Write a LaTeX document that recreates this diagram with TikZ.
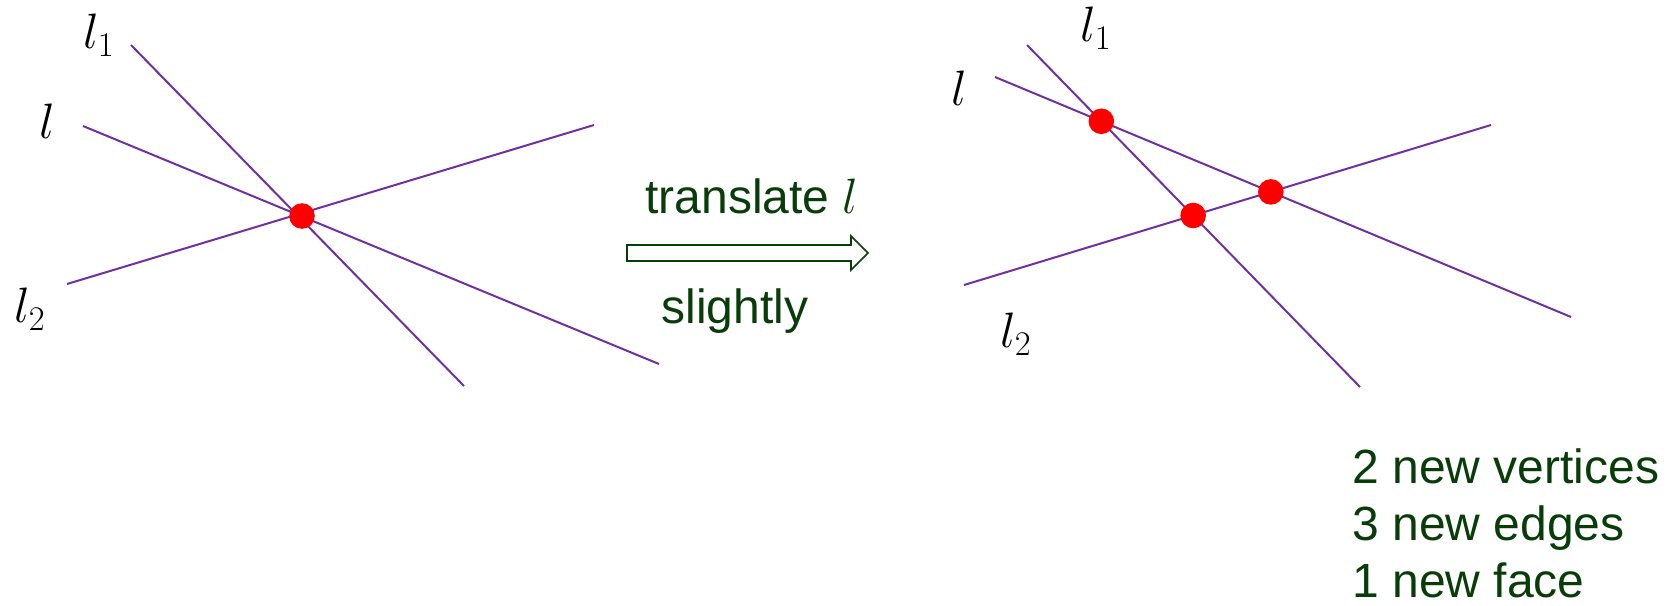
\documentclass[tikz,border=0pt]{standalone}
\usepackage{fontspec}
\setmainfont{Liberation Sans}
\usetikzlibrary{calc}
\definecolor{lin}{RGB}{112,48,160}
\definecolor{dgreen}{RGB}{8,60,8}
\begin{document}
\begin{tikzpicture}[x=0.5pt,y=-0.5pt,
  ln/.style={draw=lin,line width=1pt},
  vtx/.style={circle,fill=red,inner sep=0pt,minimum size=12.8pt},
  lab/.style={inner sep=0pt,font=\fontsize{26}{30}\selectfont},
  txt/.style={inner sep=0pt,anchor=base,text=dgreen,font=\fontsize{24}{28}\selectfont},
  hollowarrow/.style={draw=dgreen,fill=white,line width=0.8pt,line join=miter}]
\useasboundingbox (0,0) rectangle (1674,605);
% left figure
\coordinate (a1) at (131,45);  \coordinate (a2) at (464,386);
\coordinate (b1) at (83,126);  \coordinate (b2) at (659,364);
\coordinate (c1) at (67,284);  \coordinate (c2) at (594,125);
\draw[ln] (a1) -- (a2);
\draw[ln] (b1) -- (b2);
\draw[ln] (c1) -- (c2);
\node[vtx] (v0) at (302,216) {};
\node[lab] (la1) at (99,35) {$l_1$};
\node[lab] (lb) at (47,121) {$l$};
\node[lab] (lc) at (30,309) {$l_2$};
% arrow
\coordinate (ar1) at (627,245);
\draw[hollowarrow] (ar1) -- (851,245) -- (851,236) -- (868,253) -- (851,270) -- (851,261) -- (627,261) -- cycle;
\node[txt] (t1) at (752,213) {translate $l$};
\node[txt] (t2) at (735,323) {slightly};
% right figure
\coordinate (d1) at (1027,45);  \coordinate (d2) at (1360,387);
\coordinate (e1) at (995,77);   \coordinate (e2) at (1571,317);
\coordinate (f1) at (964,285);  \coordinate (f2) at (1491,125);
\draw[ln] (d1) -- (d2);
\draw[ln] (e1) -- (e2);
\draw[ln] (f1) -- (f2);
\node[vtx] (v1) at (intersection of d1--d2 and e1--e2) {};
\node[vtx] (v2) at (intersection of e1--e2 and f1--f2) {};
\node[vtx] (v3) at (intersection of d1--d2 and f1--f2) {};
\node[lab] (ld) at (1096,28) {$l_1$};
\node[lab] (le) at (959,88) {$l$};
\node[lab] (lf) at (1016,334) {$l_2$};
% bottom text
\node[txt,anchor=base west] (s1) at (1352,483) {2 new vertices};
\node[txt,anchor=base west] (s2) at (1352,540) {3 new edges};
\node[txt,anchor=base west] (s3) at (1352,597) {1 new face};
\end{tikzpicture}
\end{document}
